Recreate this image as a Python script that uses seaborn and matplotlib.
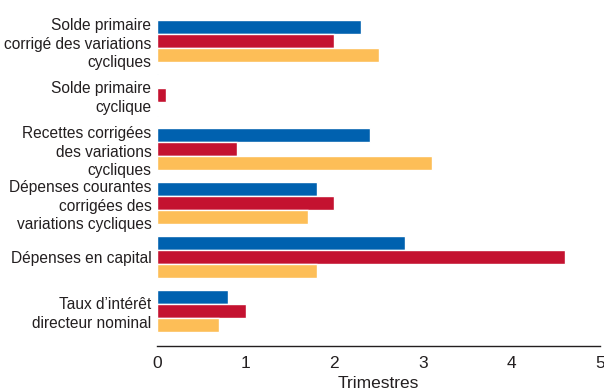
import pandas as pd
import numpy as np
import seaborn as sns
import matplotlib.pyplot as plt
from matplotlib.ticker import MultipleLocator

categories = ['Solde primaire\ncorrigé des variations\ncycliques',
              'Solde primaire\ncyclique',
              'Recettes corrigées\ndes variations\ncycliques',
              'Dépenses courantes\ncorrigées des\nvariations cycliques',
              'Dépenses en capital',
              'Taux d\u2019intérêt\ndirecteur nominal']
series = ['Série 1', 'Série 2', 'Série 3']
serie_1 = [2.3, 0.01, 2.4, 1.8, 2.8, 0.8]
serie_2 = [2.0, 0.1, 0.9, 2.0, 4.6, 1.0]
serie_3 = [2.5, 0.01, 3.1, 1.7, 1.8, 0.7]
colors = ['#0061AF', '#C41230', '#FDBE57']

df = pd.DataFrame({
    'categorie': categories * 3,
    'serie': np.repeat(series, len(categories)),
    'valeur': serie_1 + serie_2 + serie_3,
})

sns.set_style('white')
plt.rcParams['font.family'] = ['Liberation Sans', 'DejaVu Sans']

fig = plt.figure(figsize=(6.04, 3.92), dpi=100)
ax = fig.add_axes([0.26, 0.117, 0.7334, 0.855])
sns.barplot(data=df, y='categorie', x='valeur', hue='serie', orient='h',
            palette=colors, order=categories, hue_order=series,
            width=0.78, saturation=1, legend=False, ax=ax)

ax.set_xlim(0, 5)
ax.set_ylim(5.65, -0.55)
ax.xaxis.set_major_locator(MultipleLocator(1))
ax.xaxis.set_minor_locator(MultipleLocator(0.5))
ax.tick_params(axis='x', which='major', direction='in', length=7, width=1,
               labelsize=12.5, colors='#231F20', pad=7)
ax.tick_params(axis='x', which='minor', direction='in', length=4, width=1,
               colors='#231F20')
ax.tick_params(axis='y', length=0, labelsize=11.2, colors='#231F20', pad=4)
for lab in ax.get_yticklabels():
    lab.set_horizontalalignment('right')
    lab.set_multialignment('right')
    lab.set_linespacing(1.3)
ax.set_xlabel('Trimestres', fontsize=12.5, color='#231F20', labelpad=4)
ax.set_ylabel('')
sns.despine(ax=ax, left=True, top=True, right=True)
ax.spines['bottom'].set_color('#231F20')
ax.spines['bottom'].set_linewidth(1)

fig.savefig('out.png', dpi=100)
